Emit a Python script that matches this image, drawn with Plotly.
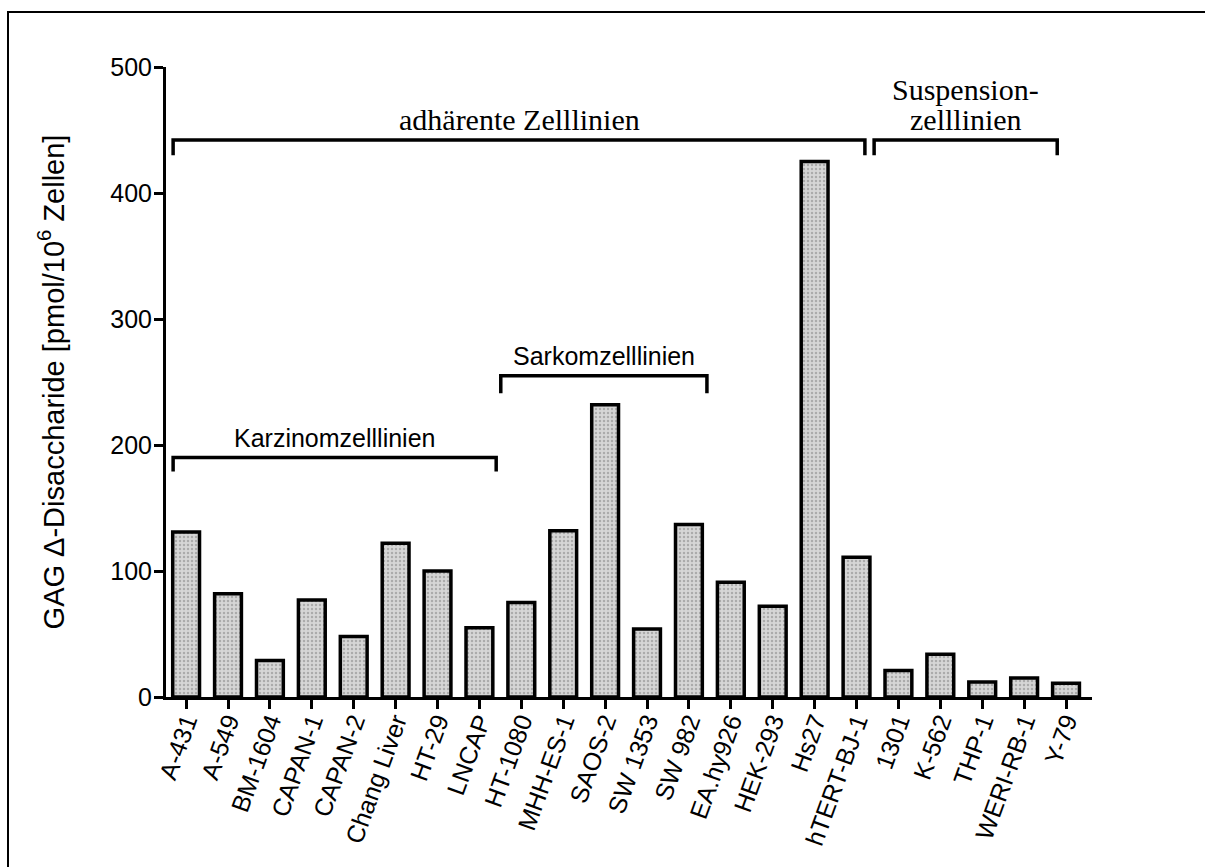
import plotly.graph_objects as go

# ---- data ----
cell_lines = ["A-431", "A-549", "BM-1604", "CAPAN-1", "CAPAN-2", "Chang Liver", "HT-29",
              "LNCAP", "HT-1080", "MHH-ES-1", "SAOS-2", "SW 1353", "SW 982", "EA.hy926",
              "HEK-293", "Hs27", "hTERT-BJ-1", "1301", "K-562", "THP-1", "WERI-RB-1", "Y-79"]
gag_values = [131, 82, 29, 77, 48, 122, 100, 55, 75, 132, 232, 54, 137, 91, 72, 425,
              111, 21, 34, 12, 15, 11]
y_ticks = [0, 100, 200, 300, 400, 500]

# bracket groups: label, first index, last index, level
group_labels = ["Karzinomzelllinien", "Sarkomzelllinien", "adhärente Zelllinien",
                "Suspension-<br>zelllinien"]
group_first = [0, 8, 0, 17]
group_last = [7, 12, 16, 21]
group_level = [190, 255, 442, 442]

x_idx = list(range(len(cell_lines)))

fig = go.Figure()
fig.add_trace(go.Bar(
    x=x_idx, y=gag_values, width=0.64,
    marker=dict(color="#d6d6d6",
                line=dict(color="black", width=3.5),
                pattern=dict(shape=".", fillmode="overlay", fgcolor="#808080",
                             size=4, solidity=0.3)),
    showlegend=False,
))

# bracket geometry (offsets relative to category centers)
left_off = [-0.31, -0.49, -0.31, -0.58]
right_off = [0.40, 0.43, 0.20, -0.21]
drop = [11, 14, 12, 12]
serif = [False, False, True, True]

for i, lab in enumerate(group_labels):
    x0 = group_first[i] + left_off[i]
    x1 = group_last[i] + right_off[i]
    y = group_level[i]
    yb = y - drop[i]
    fig.add_shape(type="path", xref="x", yref="y",
                  path=f"M {x0},{yb} L {x0},{y} L {x1},{y} L {x1},{yb}",
                  line=dict(color="black", width=3.5))
    lines = lab.split("<br>")
    for k, part in enumerate(reversed(lines)):
        fig.add_annotation(x=(x0 + x1) / 2, y=y, xref="x", yref="y", text=part,
                           showarrow=False, yanchor="bottom",
                           yshift=(4 if not serif[i] else 2) + 30 * k,
                           font=dict(family="Liberation Serif" if serif[i] else "Liberation Sans",
                                     size=30 if serif[i] else 25, color="black"))

# outer frame (left and top)
L, R, T, B = 166, 1092, 67, 697
def px_to_paper_x(p):
    return (p - L) / (R - L)
def px_to_paper_y(p):
    return (B - p) / (B - T)
fig.add_shape(type="path", xref="paper", yref="paper",
              path=f"M {px_to_paper_x(8)},{px_to_paper_y(870)} L {px_to_paper_x(8)},{px_to_paper_y(12)} "
                   f"L {px_to_paper_x(1210)},{px_to_paper_y(12)}",
              line=dict(color="black", width=2))

fig.update_layout(
    width=1205, height=867,
    margin=dict(l=L, r=1205 - R, t=T, b=867 - B, autoexpand=False),
    plot_bgcolor="white", paper_bgcolor="white",
    font=dict(family="Liberation Sans", color="black"),
    bargap=0.3,
)
fig.update_xaxes(
    range=[-0.48, 21.62], tickmode="array", tickvals=x_idx, ticktext=cell_lines,
    tickangle=-70, tickfont=dict(size=25), ticklabelstandoff=-12,
    showline=True, linecolor="black", linewidth=3,
    ticks="outside", ticklen=9, tickwidth=3, tickcolor="black", showgrid=False,
    zeroline=False,
)
fig.update_yaxes(
    range=[0, 500], tickmode="array", tickvals=y_ticks, tickfont=dict(size=25),
    ticklabelstandoff=-3,
    showline=True, linecolor="black", linewidth=3, ticks="outside", ticklen=9,
    tickwidth=3, tickcolor="black", showgrid=False, zeroline=False,
    title=dict(text="GAG Δ-Disaccharide [pmol/10<sup>6</sup> Zellen]",
               font=dict(size=29), standoff=38),
)

fig.write_html("out.html")
